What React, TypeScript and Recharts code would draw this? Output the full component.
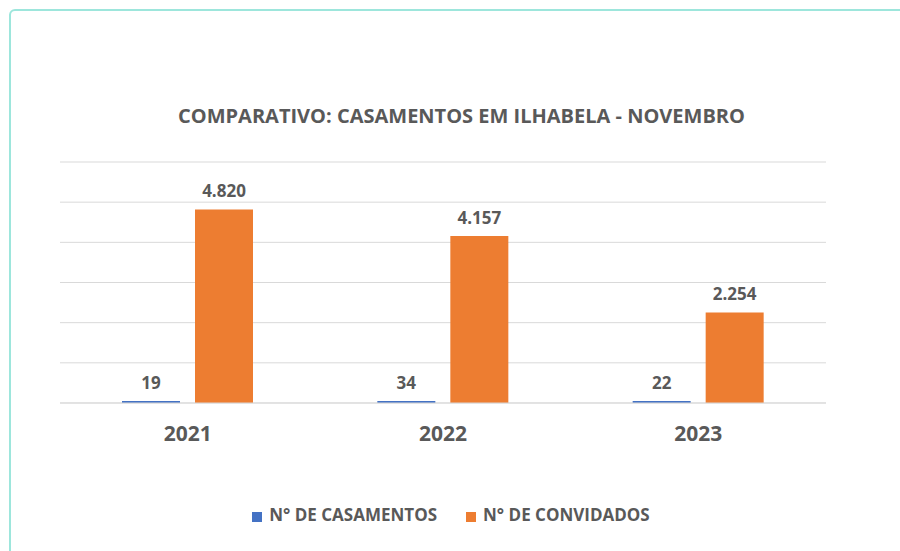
import { BarChart, Bar, XAxis, YAxis, CartesianGrid, Legend, LabelList } from "recharts"

const years = ["2021", "2022", "2023"]
const casamentos = [19, 34, 22]
const convidados = [4820, 4157, 2254]
const yTicks = [0, 1000, 2000, 3000, 4000, 5000, 6000]

const data = years.map((y, i) => ({ ano: y, casamentos: casamentos[i], convidados: convidados[i] }))

const FONT = "'Open Sans', sans-serif"
const TEXT = "#595959"

const fmt = (v: number) => v.toLocaleString("de-DE")

export default function App() {
  return (
    <div style={{ position: "fixed", left: 0, top: 0, width: 900, height: 551, background: "#fff", overflow: "hidden", fontFamily: FONT }}>
      <div style={{ position: "absolute", left: 9, top: 9, width: 1200, height: 800, border: "2px solid #9de6dc", borderRadius: 6 }} />
      <div style={{ position: "absolute", left: 0, top: 102, width: 923, textAlign: "center", fontSize: 20, fontWeight: 700, color: TEXT, lineHeight: "28px" }}>
        COMPARATIVO: CASAMENTOS EM ILHABELA - NOVEMBRO
      </div>
      <div style={{ position: "absolute", left: 0, top: 0 }}>
        <BarChart width={900} height={551} data={data} margin={{ top: 162, right: 74, left: 60, bottom: 118 }} barSize={58} barGap={15}>
          <CartesianGrid vertical={false} stroke="#d9d9d9" />
          <YAxis hide domain={[0, 6000]} ticks={yTicks} />
          <XAxis
            dataKey="ano"
            axisLine={{ stroke: "#d9d9d9" }}
            tickLine={false}
            tickMargin={17}
            tick={{ fontSize: 21, fontWeight: 700, fill: TEXT, fontFamily: FONT }}
          />
          <Legend
            verticalAlign="middle"
            align="center"
            iconType="square"
            iconSize={10}
            wrapperStyle={{ top: 503, left: 6, width: 900 }}
            formatter={(v: string, _e: any, i: number) => (
              <span style={{ color: TEXT, fontSize: 17, fontWeight: 700, fontFamily: FONT, marginLeft: 3, marginRight: i === 0 ? 19 : 0 }}>{v}</span>
            )}
          />
          <Bar dataKey="casamentos" name="N° DE CASAMENTOS" fill="#4472c4" minPointSize={2} isAnimationActive={false}>
            <LabelList dataKey="casamentos" position="top" offset={12} formatter={fmt} style={{ fontSize: 17, fontWeight: 700, fill: TEXT, fontFamily: FONT }} />
          </Bar>
          <Bar dataKey="convidados" name="N° DE CONVIDADOS" fill="#ed7d31" isAnimationActive={false}>
            <LabelList dataKey="convidados" position="top" offset={12} formatter={fmt} style={{ fontSize: 17, fontWeight: 700, fill: TEXT, fontFamily: FONT }} />
          </Bar>
        </BarChart>
      </div>
    </div>
  )
}
